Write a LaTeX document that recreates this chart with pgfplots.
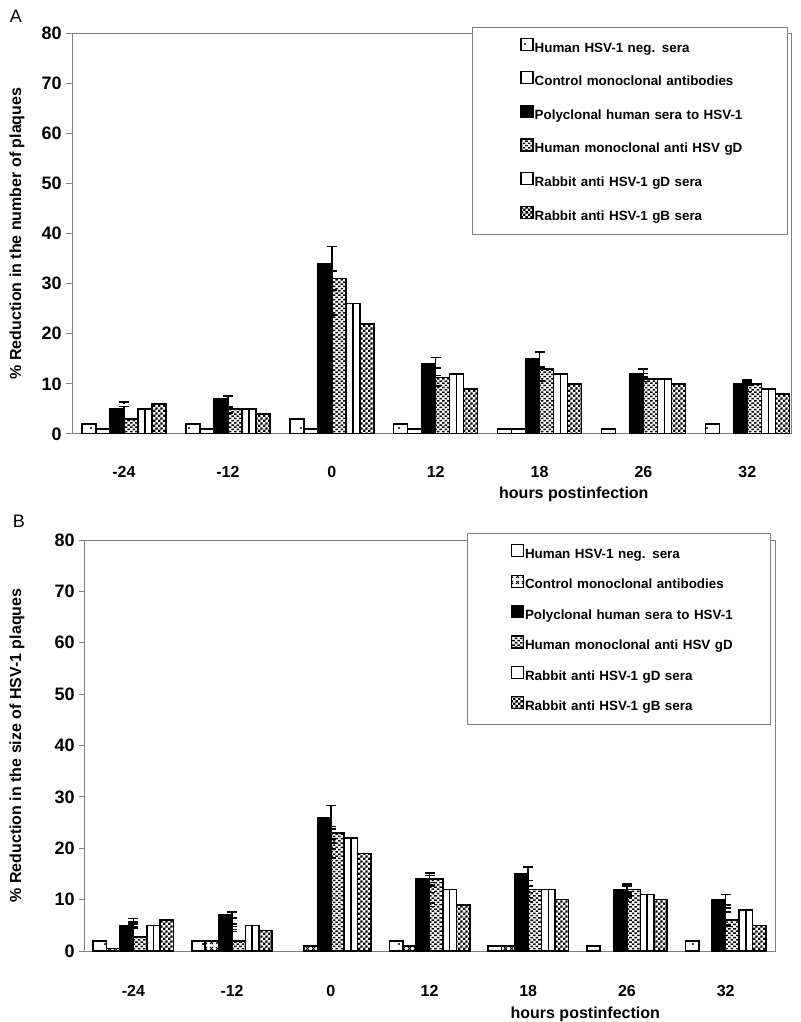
\documentclass[border=0pt]{standalone}
\usepackage{fontspec}
\setmainfont{Liberation Sans}
\usepackage{pgfplots}
\pgfplotsset{compat=1.18}
\usepackage{pgfplotstable}
\usetikzlibrary{patterns}

\pgfdeclarepatternformonly{mysdot}{\pgfqpoint{-1pt}{-1pt}}{\pgfqpoint{8pt}{7pt}}{\pgfqpoint{7pt}{6pt}}{\pgfpathcircle{\pgfqpoint{3.5pt}{3pt}}{0.6pt}\pgfusepath{fill}}
\pgfdeclarepatternformonly{mybricks}{\pgfqpoint{-0.5pt}{-0.5pt}}{\pgfqpoint{3pt}{3pt}}{\pgfqpoint{2.6pt}{2.2pt}}{\pgfpathrectangle{\pgfqpoint{0pt}{0pt}}{\pgfqpoint{1.3pt}{0.75pt}}\pgfpathrectangle{\pgfqpoint{1.3pt}{1.1pt}}{\pgfqpoint{1.3pt}{0.75pt}}\pgfusepath{fill}}
\pgfdeclarepatternformonly{mychecks}{\pgfqpoint{0pt}{0pt}}{\pgfqpoint{2.4pt}{2.4pt}}{\pgfqpoint{2.4pt}{2.4pt}}{\pgfpathrectangle{\pgfqpoint{0pt}{0pt}}{\pgfqpoint{1.2pt}{1.2pt}}\pgfpathrectangle{\pgfqpoint{1.2pt}{1.2pt}}{\pgfqpoint{1.2pt}{1.2pt}}\pgfusepath{fill}}
\pgfdeclarepatternformonly{mysmallx}{\pgfqpoint{-0.5pt}{-0.5pt}}{\pgfqpoint{3.5pt}{3.5pt}}{\pgfqpoint{3pt}{3pt}}{\pgfsetlinewidth{0.4pt}\pgfpathmoveto{\pgfqpoint{0pt}{0pt}}\pgfpathlineto{\pgfqpoint{1.5pt}{1.5pt}}\pgfpathmoveto{\pgfqpoint{0pt}{1.5pt}}\pgfpathlineto{\pgfqpoint{1.5pt}{0pt}}\pgfusepath{stroke}}

\pgfplotsset{
  myleg/.style={legend image code/.code={\path (0pt,0pt); \draw[##1, line width=0.6pt] (8pt,-0.9pt) rectangle (14pt,5.1pt);}},
  mylegB/.style={legend image code/.code={\path (0pt,0pt); \draw[##1, line width=0.6pt] (8.5pt,-0.9pt) rectangle (14.5pt,5.1pt);}},
  panel/.style={
    scale only axis, ymin=0, ymax=80, ytick={0,10,...,80},
    xtick={0,...,6}, xticklabels={-24,-12,0,12,18,26,32},
    axis line style={gray, line width=0.5pt},
    major x tick style={draw=none},
    major y tick style={gray, line width=0.5pt},
    ytick align=outside, ytick pos=left, major tick length=3pt,
    /pgf/number format/assume math mode=true,
    xticklabel style={font=\bfseries\fontsize{8}{9}\selectfont, inner sep=0pt},
    yticklabel style={font=\bfseries\fontsize{9}{10}\selectfont, inner sep=0pt},
    label style={font=\bfseries\fontsize{8}{9}\selectfont, inner sep=0pt},
    legend cell align=left,
  },
  ebar/.style={error bars/.cd, y explicit, error bar style={line width=0.8pt, black},
    error mark options={rotate=90, mark size=2.5pt, line width=0.8pt, black}},
}

\pgfplotstableread{
x neg ctrl poly polye hgd hgde rgd rgde gb gbe
0 2 1 5 0.5 3 0 5 0.5 6 0.4
1 2 1 7 0.6 5 0 5 0.4 4 0.2
2 3 1 34 3.4 31 1.5 26 2.7 22 1.7
3 2 1 14 1.3 11.3 0.4 12 1.2 9 0.6
4 1 1 15 1.4 13 0.5 12 1.3 10 0.6
5 1 nan 12 1.0 11 0.4 11 1.1 10 0.5
6 2 nan 10 0.8 10 0.4 9 0.8 8 0.5
}\tabA

\pgfplotstableread{
x neg ctrl poly polye hgd hgde rgd rgde gb gbe
0 2 0.5 5 0.5 2.7 0 5 0.2 6 0.3
1 2 2 7 0.6 2 0 5 0.2 4 0.2
2 nan 1 26 2.3 23 1.2 22 1.0 19 0.9
3 2 1 14 1.2 14 0.7 12 0.6 9 0.3
4 1 1 15 1.3 12 0.6 12 0.6 10 0.4
5 1 nan 12 1.1 12 0.7 11 0.5 10 0.4
6 2 nan 10 1.0 6 0.1 8 0.4 5 0.1
}\tabB

\begin{document}
\begin{tikzpicture}[x=1pt,y=1pt]
\useasboundingbox (0,0) rectangle (400,511);
\node[font=\fontsize{9}{10}\selectfont] at (8,503) {A};
\node[font=\fontsize{9}{10}\selectfont] at (9.5,250.5) {B};

% Panel A
\begin{axis}[panel,
  at={(36pt,294pt)}, anchor=south west, width=359.5pt, height=200.5pt,
  xmin=-0.5, xmax=6.42,
  xticklabel style={yshift=-16pt},
  yticklabel style={xshift=-2pt},
  xlabel={hours postinfection},
  xlabel style={at={(axis description cs:0.698,-0.131)}, anchor=north},
  ylabel={\% Reduction in the number of plaques},
  ylabel style={at={(axis description cs:-0.0766,0.5)}, anchor=center},
  legend style={at={(0.556,1.015)}, anchor=north west, draw=gray, line width=0.5pt, fill=white,
    inner xsep=16pt, inner ysep=5.1pt, row sep=7.7pt,
    font=\bfseries\fontsize{6.7}{8}\selectfont,
    nodes={inner sep=0.5pt, text height=5pt, text depth=1.4pt, text width=110pt, align=left}},
]
\addplot[ybar, bar width=7pt, bar shift=-17.5pt, draw=black, line width=0.8pt, pattern=mysdot, myleg] table[x=x,y=neg]{\tabA};
\addplot[ybar, bar width=7pt, bar shift=-10.5pt, draw=black, line width=0.8pt, fill=white, myleg] table[x=x,y=ctrl]{\tabA};
\addplot[ybar, bar width=7pt, bar shift=-3.5pt, draw=black, line width=0.8pt, fill=black, myleg, ebar, y dir=plus] table[x=x,y=poly,y error=polye]{\tabA};
\addplot[ybar, bar width=7pt, bar shift=3.5pt, draw=black, line width=0.8pt, pattern=mybricks, myleg, ebar, y dir=plus] table[x=x,y=hgd,y error=hgde]{\tabA};
\addplot[ybar, bar width=3.5pt, bar shift=8.75pt, draw=black, line width=0.8pt, fill=white, forget plot] table[x=x,y=rgd]{\tabA};
\addplot[ybar, bar width=3.5pt, bar shift=12.25pt, draw=black, line width=0.8pt, fill=white, forget plot] table[x=x,y=rgd]{\tabA};
\addplot[ybar, bar width=7pt, bar shift=10.5pt, draw=black, line width=0.8pt, fill=none, myleg, ebar, y dir=plus] table[x=x,y=rgd,y error=rgde]{\tabA};
\addplot[ybar, bar width=7pt, bar shift=17.5pt, draw=black, line width=0.8pt, pattern=mychecks, myleg, ebar, y dir=plus] table[x=x,y=gb,y error=gbe]{\tabA};
\legend{Human HSV-1 neg. sera, Control monoclonal antibodies, Polyclonal human sera to HSV-1, Human monoclonal anti HSV gD, Rabbit anti HSV-1 gD sera, Rabbit anti HSV-1 gB sera}
\end{axis}

% Panel B
\begin{axis}[panel,
  at={(42.5pt,35.5pt)}, anchor=south west, width=345.5pt, height=205.5pt,
  xmin=-0.49, xmax=6.51,
  xticklabel style={yshift=-17pt},
  yticklabel style={xshift=-2pt},
  xlabel={hours postinfection},
  xlabel style={at={(axis description cs:0.724,-0.136)}, anchor=north},
  ylabel={\% Reduction in the size of HSV-1 plaques},
  ylabel style={at={(axis description cs:-0.0984,0.5)}, anchor=center},
  legend style={at={(0.553,1.017)}, anchor=north west, draw=gray, line width=0.5pt, fill=white,
    inner xsep=13pt, inner ysep=5.3pt, row sep=6.1pt,
    font=\bfseries\fontsize{6.7}{8}\selectfont,
    nodes={inner sep=0.5pt, text height=5pt, text depth=1.4pt, text width=109pt, align=left}},
]
\addplot[ybar, bar width=6.7pt, bar shift=-16.75pt, draw=black, line width=0.8pt, pattern=mysdot, mylegB] table[x=x,y=neg]{\tabB};
\addplot[ybar, bar width=6.7pt, bar shift=-10.05pt, draw=black, line width=0.8pt, pattern=mysmallx, mylegB] table[x=x,y=ctrl]{\tabB};
\addplot[ybar, bar width=6.7pt, bar shift=-3.35pt, draw=black, line width=0.8pt, fill=black, mylegB, ebar, y dir=both] table[x=x,y=poly,y error=polye]{\tabB};
\addplot[ybar, bar width=6.7pt, bar shift=3.35pt, draw=black, line width=0.8pt, pattern=mybricks, mylegB, ebar, y dir=both] table[x=x,y=hgd,y error=hgde]{\tabB};
\addplot[ybar, bar width=3.35pt, bar shift=8.375pt, draw=black, line width=0.8pt, fill=white, forget plot] table[x=x,y=rgd]{\tabB};
\addplot[ybar, bar width=3.35pt, bar shift=11.725pt, draw=black, line width=0.8pt, fill=white, forget plot] table[x=x,y=rgd]{\tabB};
\addplot[ybar, bar width=6.7pt, bar shift=10.05pt, draw=black, line width=0.8pt, fill=none, mylegB, ebar, y dir=both] table[x=x,y=rgd,y error=rgde]{\tabB};
\addplot[ybar, bar width=6.7pt, bar shift=16.75pt, draw=black, line width=0.8pt, pattern=mychecks, mylegB, ebar, y dir=both] table[x=x,y=gb,y error=gbe]{\tabB};
\legend{Human HSV-1 neg. sera, Control monoclonal antibodies, Polyclonal human sera to HSV-1, Human monoclonal anti HSV gD, Rabbit anti HSV-1 gD sera, Rabbit anti HSV-1 gB sera}
\end{axis}
\end{tikzpicture}
\end{document}
